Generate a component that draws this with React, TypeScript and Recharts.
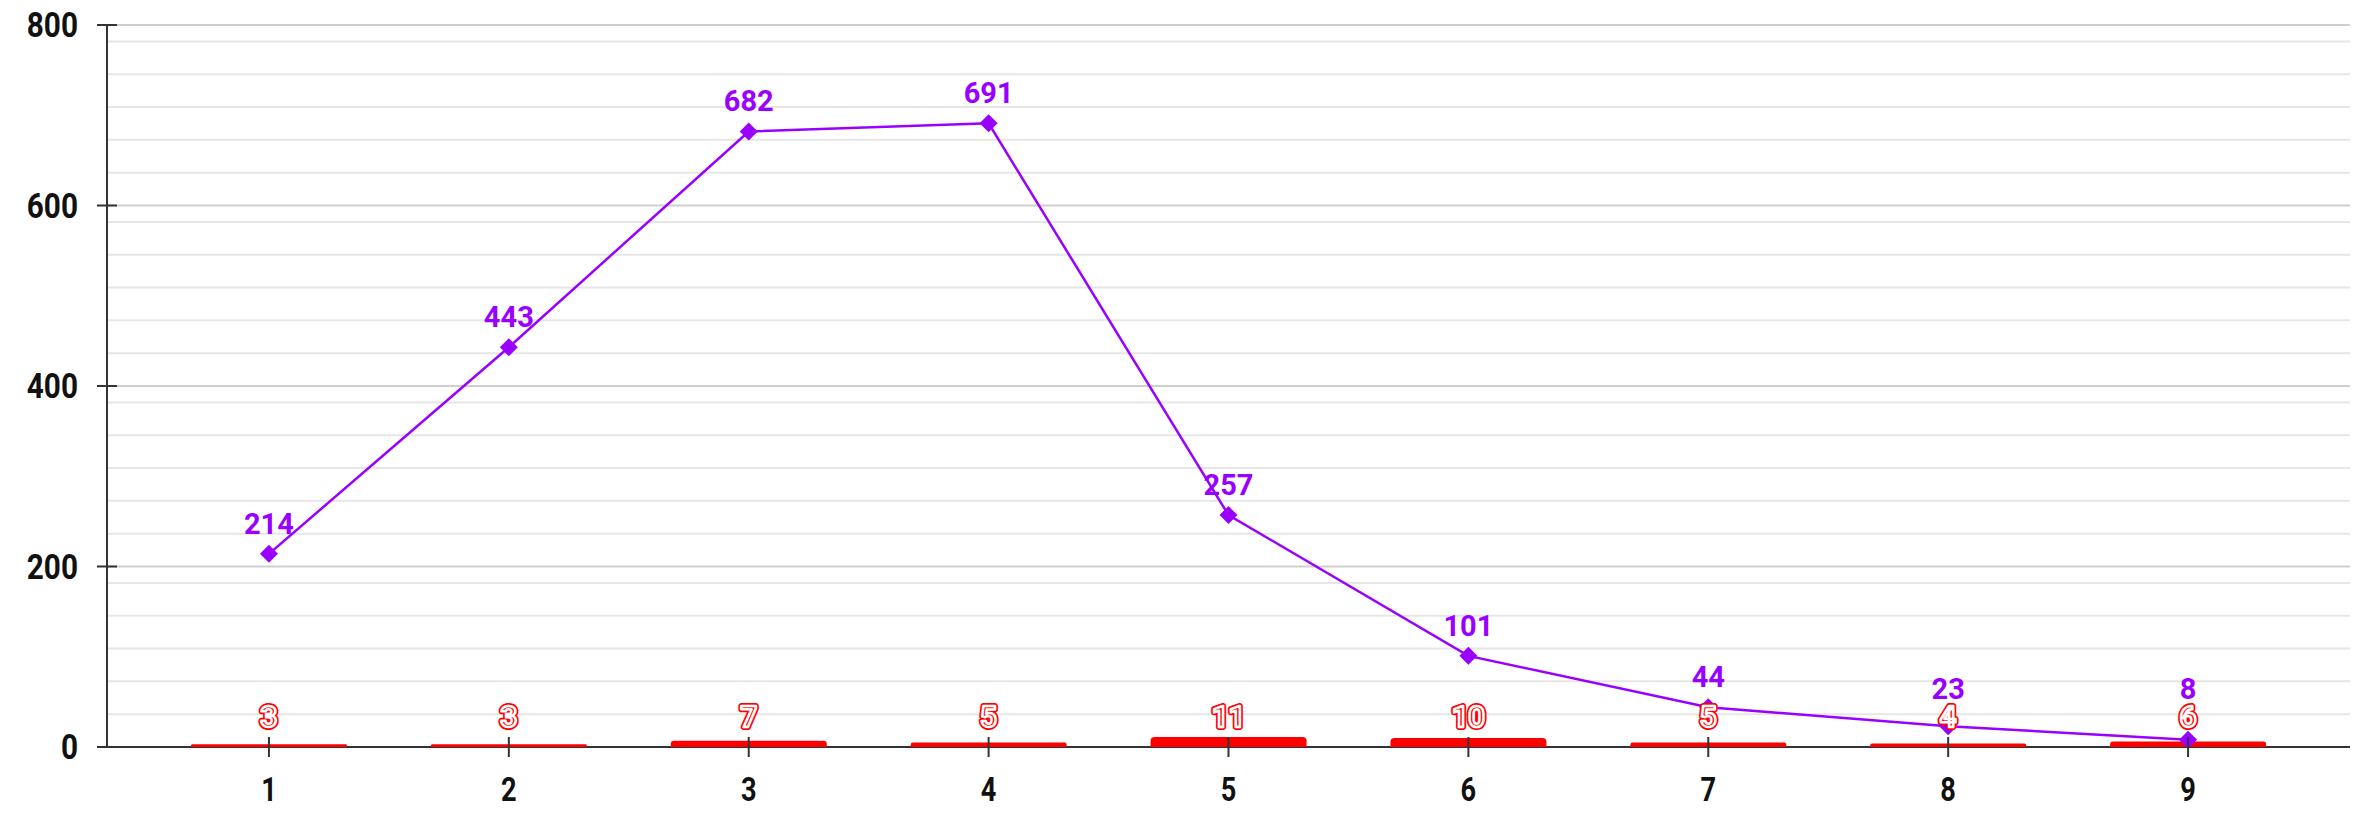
import React from "react";
import {
  ComposedChart,
  Bar,
  Line,
  XAxis,
  YAxis,
  CartesianGrid,
  LabelList,
} from "recharts";

const categories = ["1", "2", "3", "4", "5", "6", "7", "8", "9"];
const lineValues = [214, 443, 682, 691, 257, 101, 44, 23, 8];
const barValues = [3, 3, 7, 5, 11, 10, 5, 4, 6];
const yTicks = [0, 200, 400, 600, 800];

const data = categories.map((name, i) => ({
  name,
  total: lineValues[i],
  small: barValues[i],
}));

const W = 2357;
const H = 818;
const TOP = 25;
const Y_AXIS_W = 107;
const X_AXIS_H = 71;
const PLOT_BOTTOM = H - X_AXIS_H;

const PURPLE = "#9900ff";
const RED = "#ff0000";
const AXIS = "#333";

// light minor grid, 11 steps between major ticks
const minorStep = 200 / 11;
const minorValues: number[] = [];
for (let k = 1; k * minorStep < 800 - 0.001; k++) {
  if (k % 11 !== 0) minorValues.push(k * minorStep);
}

const tickFont = "Roboto, 'Liberation Sans', sans-serif";

function XTick(props: any) {
  const { x, y, payload } = props;
  return (
    <g>
      <line x1={x} x2={x} y1={y - 10} y2={y + 10} stroke={AXIS} strokeWidth={2} />
      <text
        transform={`translate(${x} ${y + 54}) scale(0.8 1)`}
        textAnchor="middle"
        fontSize={34}
        fontWeight={700}
        fontFamily={tickFont}
        fill="#111"
      >
        {payload.value}
      </text>
    </g>
  );
}

function YTick(props: any) {
  const { x, y, payload } = props;
  return (
    <g>
      <line x1={x - 10} x2={x + 10} y1={y} y2={y} stroke={AXIS} strokeWidth={2} />
      <text
        transform={`translate(${x - 29} ${y + 12}) scale(0.85 1)`}
        textAnchor="end"
        fontSize={35}
        fontWeight={700}
        fontFamily={tickFont}
        fill="#111"
      >
        {payload.value}
      </text>
    </g>
  );
}

function LineLabel(props: any) {
  const { x, y, value } = props;
  // keep clear of the red labels sitting just above the axis
  let cy = y - 30;
  if (cy > PLOT_BOTTOM - 58) cy = PLOT_BOTTOM - 58;
  return (
    <text
      x={x}
      y={cy + 10}
      textAnchor="middle"
      fontSize={29}
      fontWeight={700}
      fontFamily="Roboto, sans-serif"
      fill={PURPLE}
    >
      {value}
    </text>
  );
}

function BarLabel(props: any) {
  const { x, value } = props;
  const ty = PLOT_BOTTOM - 20;
  const common = {
    x,
    y: ty,
    textAnchor: "middle" as const,
    fontSize: 29,
    fontWeight: 700,
    fontFamily: "Roboto, sans-serif",
  };
  return (
    <g>
      <text {...common} fill={RED} stroke={RED} strokeWidth={6} strokeLinejoin="round">
        {value}
      </text>
      <text {...common} fill={RED} stroke="#fff" strokeWidth={2.5} strokeLinejoin="round">
        {value}
      </text>
    </g>
  );
}

function Diamond(props: any) {
  const { cx, cy } = props;
  if (cx == null || cy == null) return null;
  const r = 9;
  return (
    <path
      d={`M${cx} ${cy - r} L${cx + r} ${cy} L${cx} ${cy + r} L${cx - r} ${cy} Z`}
      fill={PURPLE}
    />
  );
}

export default function App() {
  return (
    <div style={{ position: "absolute", left: 0, top: 0, width: W, height: H, background: "#fff" }}>
      <ComposedChart
        width={W}
        height={H}
        data={data}
        margin={{ top: TOP, right: 7, bottom: 0, left: 0 }}
      >
        <CartesianGrid
          vertical={false}
          horizontalValues={minorValues}
          stroke="#e6e6e6"
          strokeWidth={2}
        />
        <CartesianGrid
          vertical={false}
          horizontalValues={[200, 400, 600, 800]}
          stroke="#cfcfcf"
          strokeWidth={2}
        />
        {/* baseline drawn as grid so the red bars sit on top of it */}
        <CartesianGrid
          vertical={false}
          horizontalValues={[0]}
          stroke={AXIS}
          strokeWidth={2}
        />
        <XAxis
          dataKey="name"
          height={X_AXIS_H}
          padding={{ left: 42, right: 42 }}
          tickSize={0}
          tickMargin={0}
          tick={<XTick />}
          axisLine={false}
          tickLine={false}
          interval={0}
        />
        <YAxis
          width={Y_AXIS_W}
          domain={[0, 800]}
          ticks={yTicks}
          tickSize={0}
          tickMargin={0}
          tick={<YTick />}
          axisLine={{ stroke: AXIS, strokeWidth: 2 }}
          tickLine={false}
          allowDataOverflow
        />
        <Bar
          dataKey="small"
          fill={RED}
          barSize={156}
          radius={[4, 4, 0, 0]}
          isAnimationActive={false}
        />
        <Line
          dataKey="total"
          type="linear"
          stroke={PURPLE}
          strokeWidth={2.5}
          dot={<Diamond />}
          activeDot={false}
          isAnimationActive={false}
        >
          <LabelList dataKey="total" content={<LineLabel />} />
        </Line>
        <Line
          dataKey="small"
          stroke="none"
          dot={false}
          activeDot={false}
          isAnimationActive={false}
        >
          <LabelList dataKey="small" content={<BarLabel />} />
        </Line>
      </ComposedChart>
    </div>
  );
}
